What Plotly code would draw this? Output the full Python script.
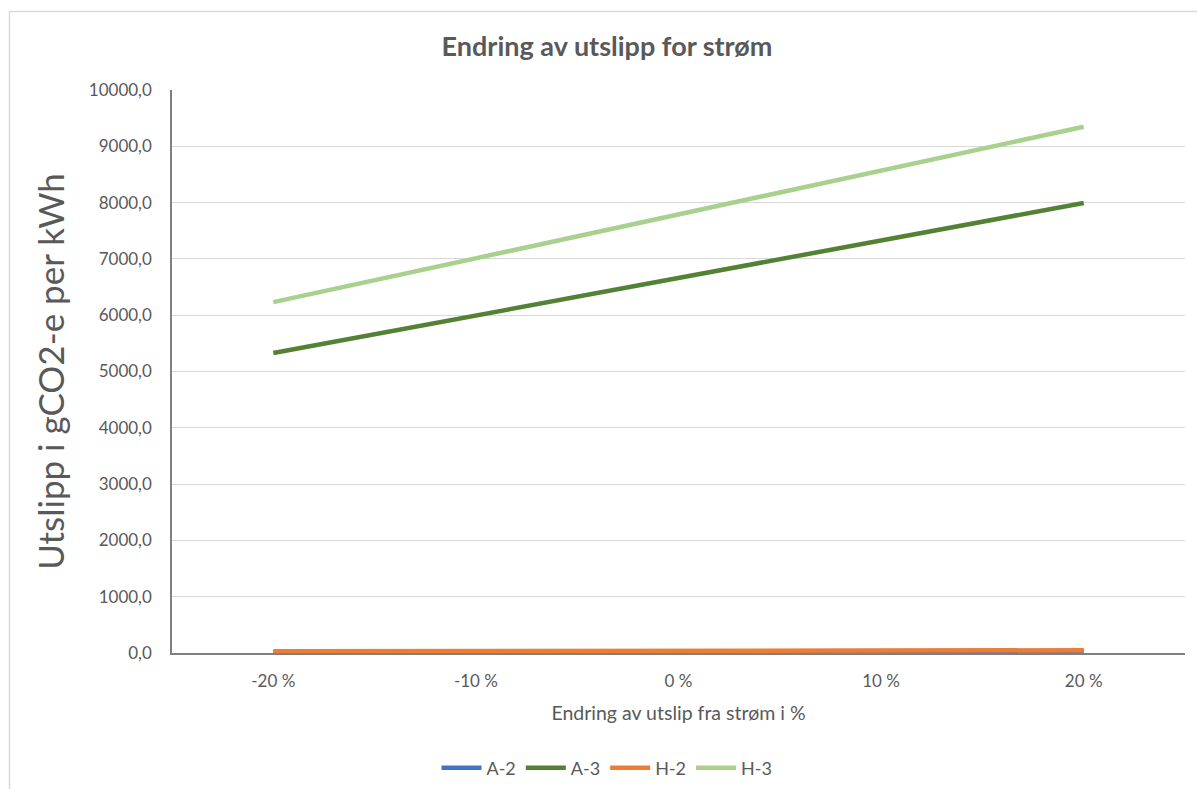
import plotly.graph_objects as go

categories = ["-20 %", "-10 %", "0 %", "10 %", "20 %"]
a2 = [24, 27, 30, 33, 36]
a3 = [5329, 5995, 6661, 7327, 7993]
h2 = [32, 36, 40, 44, 48]
h3 = [6232, 7011, 7790, 8569, 9348]

series = [("A-2", a2, "#4472C4"), ("A-3", a3, "#548235"),
          ("H-2", h2, "#ED7D31"), ("H-3", h3, "#A9D18E")]

W, H = 1197, 789
L, R, T, B = 172, 1185, 90, 653
pw, ph = R - L, B - T

def px(x):
    return (x - L) / pw

def py(y):
    return (B - y) / ph

fig = go.Figure()
for name, vals, col in series:
    fig.add_trace(go.Scatter(x=categories, y=vals, name=name, mode="lines",
                             line=dict(color=col, width=4.5)))

FONT = "Lato, Open Sans, sans-serif"
GREY = "#595959"

fig.update_layout(
    width=W, height=H,
    margin=dict(l=L, r=W - R, t=T, b=H - B, autoexpand=False),
    paper_bgcolor="white", plot_bgcolor="white",
    separators=", ",
    font=dict(family=FONT, color=GREY),
    title=dict(text="<b>Endring av utslipp for strøm</b>", x=607 / W, xanchor="center",
               xref="container", y=1 - 47 / H, yanchor="middle",
               font=dict(size=27, color=GREY, family=FONT)),
    xaxis=dict(type="category", range=[-0.5, 4.5], showgrid=False,
               showline=True, linecolor="#7f7f7f", linewidth=1.5,
               ticks="", tickfont=dict(size=17, color=GREY),
               ticklabelstandoff=12, automargin=False,
               title=dict(text="Endring av utslip fra strøm i %", standoff=16,
                          font=dict(size=19.5, color=GREY))),
    yaxis=dict(range=[0, 10000], dtick=1000, tickformat=".1f",
               showgrid=True, gridcolor="#d9d9d9", gridwidth=1,
               zeroline=False, showline=True, linecolor="#7f7f7f", linewidth=1.5,
               ticks="", tickfont=dict(size=17, color=GREY),
               ticklabelstandoff=15, automargin=False,
               title=dict(text="Utslipp i gCO2-e per kWh", standoff=14,
                          font=dict(size=35, color=GREY))),
    legend=dict(orientation="h", x=px(607), xanchor="center",
                y=py(768), yanchor="middle",
                font=dict(size=18, color=GREY), itemwidth=40,
                tracegroupgap=0),
    shapes=[dict(type="rect", xref="paper", yref="paper",
                 x0=px(9.5), x1=px(1205), y0=py(800), y1=py(11.5),
                 line=dict(color="#d9d9d9", width=1.5), layer="below")],
)

fig.write_html("out.html")
